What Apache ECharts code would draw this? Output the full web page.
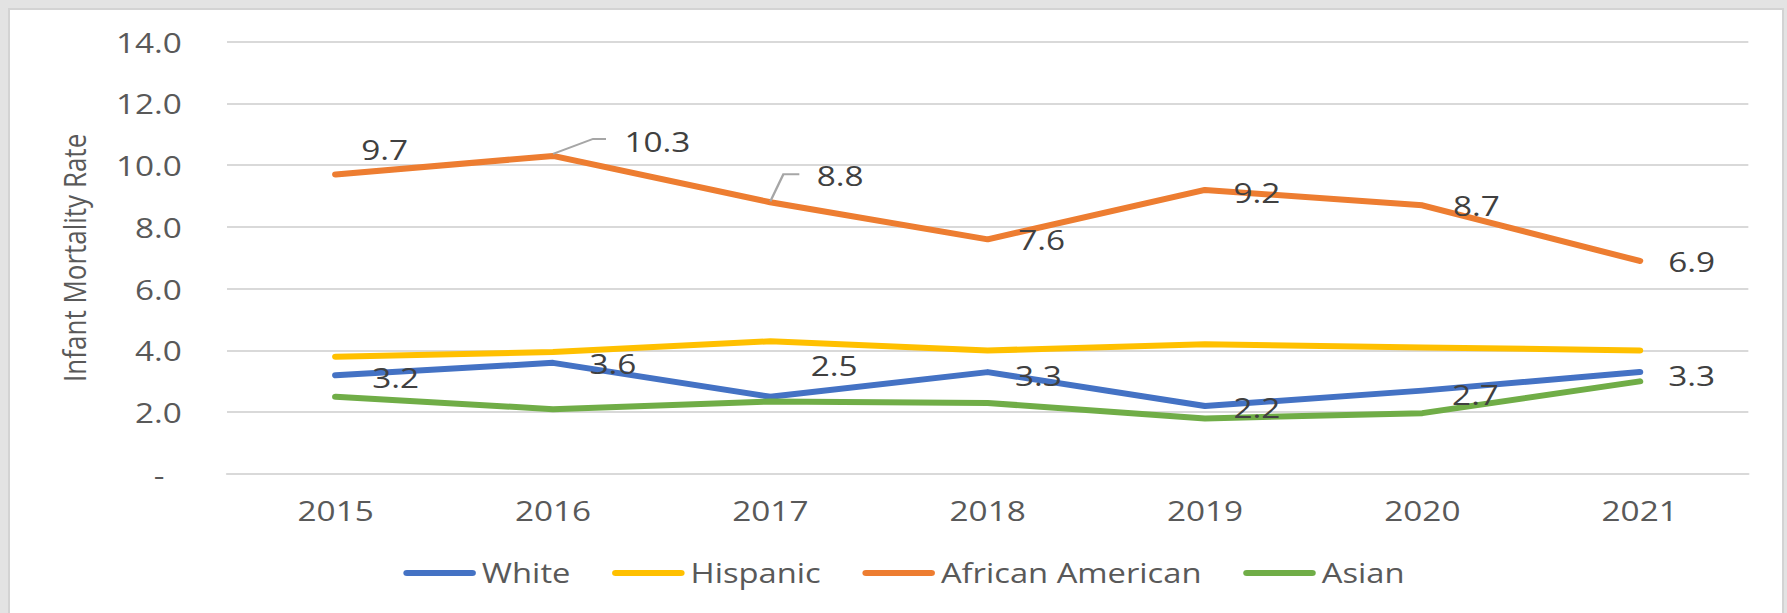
<!DOCTYPE html>
<html>
<head>
<meta charset="utf-8">
<title>Infant Mortality Rate by Race/Ethnicity, 2015–2021</title>
<script src="https://cdn.jsdelivr.net/npm/echarts@6/dist/echarts.min.js"></script>
<style>
  html, body { margin: 0; padding: 0; width: 1787px; height: 613px; overflow: hidden; background: #e3e3e3; font-family: 'Open Sans', sans-serif; }
  .frame { position: absolute; left: 8px; top: 8px; width: 1776px; height: 700px; box-sizing: border-box; background: #ffffff; border: 2px solid #d3d3d3; }
  /* the chart is laid out narrower and widened, which gives the broad lettering of the original sheet */
  #chart { position: absolute; left: 0; top: 0; width: 1502px; height: 613px; transform-origin: 0 0; transform: scaleX(1.18975); }
</style>
</head>
<body>
<div class="frame"></div>
<div id="chart"></div>
<script>
// ---- data ----
const years = ['2015', '2016', '2017', '2018', '2019', '2020', '2021'];
const white = [3.2, 3.6, 2.5, 3.3, 2.2, 2.7, 3.3];
const hispanic = [3.8, 3.95, 4.3, 4.0, 4.2, 4.1, 4.0];
const africanAmerican = [9.7, 10.3, 8.8, 7.6, 9.2, 8.7, 6.9];
const asian = [2.5, 2.1, 2.35, 2.3, 1.8, 1.97, 3.0];
const seriesNames = ['White', 'Hispanic', 'African American', 'Asian'];
const yMin = 0, yMax = 14, yStep = 2;

// ---- label placement (pixel nudges from the default right-hand spot) ----
const aaLabelShift = [[-2.5, -25], [36, -14.5], [15, -27], [1.7, 0], [0, 2], [1.7, 0], [0, 0]];
const whiteLabelShift = [[6.7, 2], [6.7, 0], [10, -32], [-1, 3], [0, 1.5], [1, 3], [0, 3]];
// leader lines (in widened pixels) for the labels pulled away from their points
const leaders = [
  { index: 1, pts: [[0, -2], [40, -17], [53, -17]] },
  { index: 2, pts: [[0, -1], [13, -28], [29, -28]] }
];
const stretch = 1787 / 1502;

const colors = ['#4472C4', '#FFC000', '#ED7D31', '#70AD47'];
const labelBase = { show: true, position: 'right', distance: 24, fontSize: 28, color: '#404040', fontFamily: 'Open Sans' };

function labelled(values, shifts) {
  return values.map((v, i) => ({ value: v, label: Object.assign({}, labelBase, { offset: shifts[i] }) }));
}

function lineSeries(name, data, withLabels) {
  return {
    name: name,
    type: 'line',
    data: data,
    symbol: 'circle',
    symbolSize: 0,
    showSymbol: true,
    lineStyle: { width: 6, cap: 'round', join: 'round' },
    label: withLabels ? labelBase : { show: false },
    emphasis: { disabled: true },
    animation: false
  };
}

const chart = echarts.init(document.getElementById('chart'), null, { renderer: 'svg' });
chart.setOption({
  animation: false,
  color: colors,
  textStyle: { fontFamily: 'Open Sans' },
  grid: { left: 190.8, right: 32.5, top: 41.7, bottom: 139 },
  legend: {
    data: seriesNames,
    left: 334,
    top: 554,
    icon: 'path://M3,0 H58 A3,3 0 0 1 58,6 H3 A3,3 0 0 1 3,0 Z',
    itemWidth: 61,
    itemHeight: 6,
    itemGap: 35,
    textStyle: { fontSize: 27.5, color: '#595959', fontFamily: 'Open Sans' }
  },
  xAxis: {
    type: 'category',
    data: years,
    boundaryGap: true,
    axisTick: { show: false },
    axisLine: { show: true, lineStyle: { color: '#d9d9d9', width: 2 } },
    axisLabel: { fontSize: 28, color: '#595959', margin: 22 }
  },
  yAxis: {
    type: 'value',
    min: yMin,
    max: yMax,
    interval: yStep,
    name: 'Infant Mortality Rate',
    nameLocation: 'middle',
    nameGap: 116,
    nameTextStyle: { fontSize: 26, color: '#595959' },
    axisLine: { show: false },
    axisTick: { show: false },
    splitLine: { lineStyle: { color: '#d9d9d9', width: 2 } },
    axisLabel: {
      fontSize: 28,
      color: '#595959',
      margin: 38,
      formatter: v => (v === 0 ? '-  ' : v.toFixed(1))
    }
  },
  series: [
    lineSeries('White', labelled(white, whiteLabelShift), true),
    lineSeries('Hispanic', hispanic, false),
    lineSeries('African American', labelled(africanAmerican, aaLabelShift), true),
    lineSeries('Asian', asian, false)
  ]
});

// leader lines drawn from the African American points
const guideLines = leaders.map(l => {
  const p = chart.convertToPixel({ xAxisIndex: 0, yAxisIndex: 0 }, [l.index, africanAmerican[l.index]]);
  return {
    type: 'polyline',
    silent: true,
    z: 10,
    shape: { points: l.pts.map(q => [p[0] + q[0] / stretch, p[1] + q[1]]) },
    style: { stroke: '#a6a6a6', lineWidth: 2, fill: null }
  };
});
chart.setOption({ graphic: guideLines });
</script>
</body>
</html>
